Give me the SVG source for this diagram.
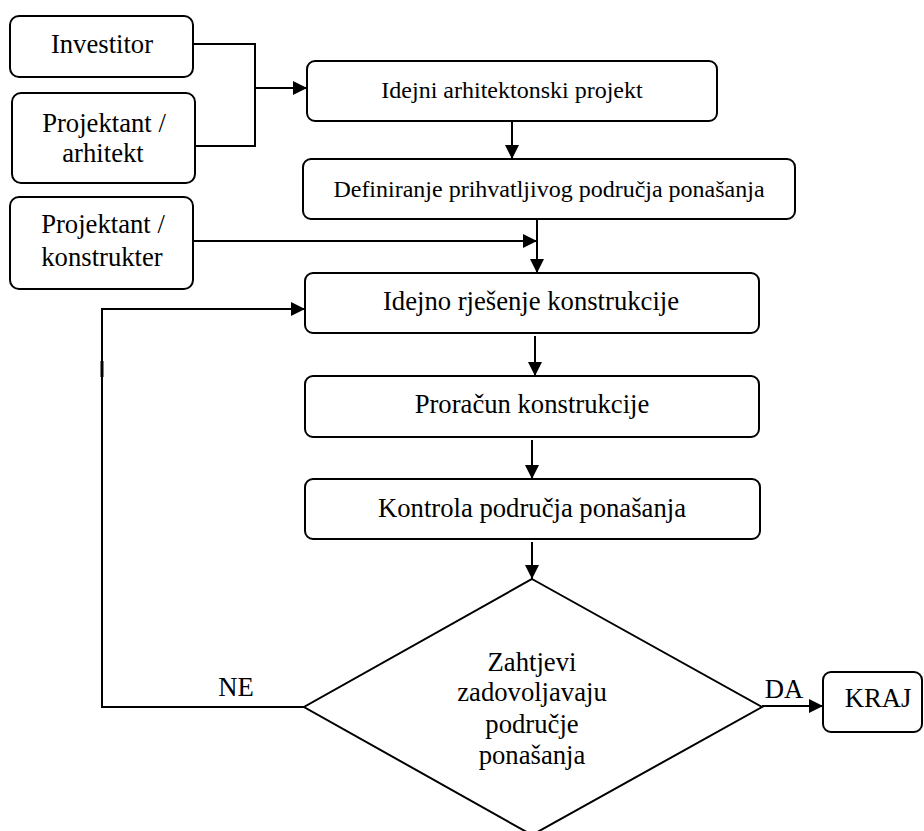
<svg xmlns="http://www.w3.org/2000/svg" width="924" height="831" viewBox="0 0 924 831">
<style>
.box{fill:#fff;stroke:#000;stroke-width:2}
.ln{fill:none;stroke:#000;stroke-width:2}
.t{font-family:'Liberation Serif','Times New Roman',Tinos,'DejaVu Serif',serif;font-size:26.67px;fill:#000;text-anchor:middle}
.s{font-size:24px}
</style>
<defs>
<marker id="ah" markerUnits="userSpaceOnUse" markerWidth="14" markerHeight="14" viewBox="0 0 14 14" refX="14" refY="7" orient="auto">
<path d="M0,0 L14,7 L0,14 Z" fill="#000"/>
</marker>
</defs>
<rect width="924" height="831" fill="#fff"/>
<g id="connectors">
<polyline class="ln" points="193,44 255,44 255,146 195,146"/>
<line class="ln" x1="255" y1="88" x2="307" y2="88" marker-end="url(#ah)"/>
<line class="ln" x1="512" y1="121" x2="512" y2="159" marker-end="url(#ah)"/>
<line class="ln" x1="537" y1="219" x2="537" y2="273" marker-end="url(#ah)"/>
<line class="ln" x1="193" y1="241" x2="537" y2="241" marker-end="url(#ah)"/>
<line class="ln" x1="535" y1="336" x2="535" y2="376" marker-end="url(#ah)"/>
<line class="ln" x1="532" y1="440" x2="532" y2="479" marker-end="url(#ah)"/>
<line class="ln" x1="532" y1="542" x2="532" y2="579" marker-end="url(#ah)"/>
<polyline class="ln" points="304,707 102,707 102,309 305,309" marker-end="url(#ah)"/>
<line x1="102" y1="361" x2="102" y2="377" stroke="#000" stroke-width="3"/>
<line class="ln" x1="762" y1="706" x2="823" y2="706" marker-end="url(#ah)"/>
<text class="t" x="236" y="696">NE</text>
<text class="t" x="784" y="698">DA</text>
</g>
<g id="investitor">
<rect class="box" x="10" y="16" width="183" height="61" rx="9"/>
<text class="t" x="102" y="53">Investitor</text>
</g>
<g id="projektant-arhitekt">
<rect class="box" x="12" y="93" width="183" height="90" rx="9"/>
<text class="t" x="104" y="132">Projektant /</text>
<text class="t" x="103" y="162">arhitekt</text>
</g>
<g id="projektant-konstrukter">
<rect class="box" x="10" y="197" width="183" height="92" rx="9"/>
<text class="t" x="103" y="233">Projektant /</text>
<text class="t" x="102" y="266">konstrukter</text>
</g>
<g id="idejni-projekt">
<rect class="box" x="307" y="61" width="410" height="60" rx="8"/>
<text class="t s" x="512" y="98">Idejni arhitektonski projekt</text>
</g>
<g id="definiranje">
<rect class="box" x="303" y="159" width="492" height="60" rx="8"/>
<text class="t s" x="549" y="197">Definiranje prihvatljivog područja ponašanja</text>
</g>
<g id="idejno-rjesenje">
<rect class="box" x="305" y="273" width="454" height="60" rx="8"/>
<text class="t" x="531" y="310">Idejno rješenje konstrukcije</text>
</g>
<g id="proracun">
<rect class="box" x="305" y="376" width="454" height="61" rx="8"/>
<text class="t" x="532" y="413">Proračun konstrukcije</text>
</g>
<g id="kontrola">
<rect class="box" x="305" y="479" width="455" height="60" rx="8"/>
<text class="t" x="532" y="517">Kontrola područja ponašanja</text>
</g>
<g id="odluka">
<polygon class="box" points="532,579 762,707 532,835 304,707"/>
<text class="t" x="532" y="671">Zahtjevi</text>
<text class="t" x="532" y="701">zadovoljavaju</text>
<text class="t" x="532" y="733">područje</text>
<text class="t" x="532" y="764">ponašanja</text>
</g>
<g id="kraj">
<rect class="box" x="823" y="672" width="99" height="60" rx="8"/>
<text class="t" x="878" y="707">KRAJ</text>
</g>
</svg>
